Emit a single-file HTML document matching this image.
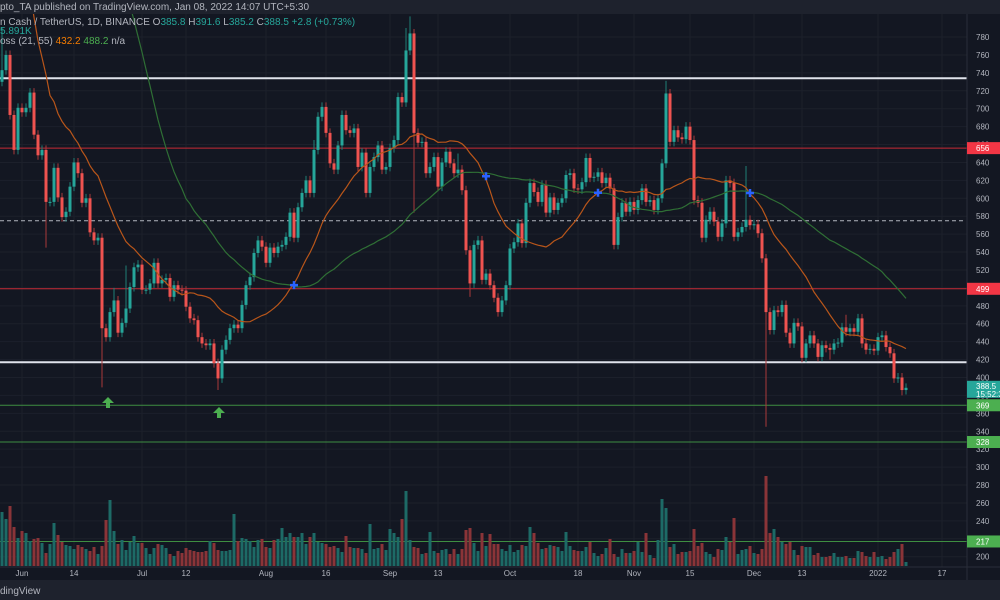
<!DOCTYPE html>
<html><head><meta charset="utf-8">
<style>
html,body{margin:0;padding:0;background:#131722;width:1000px;height:600px;overflow:hidden;font-family:"Liberation Sans",sans-serif;}
svg{display:block}
</style></head>
<body>
<svg id="chart" width="1000" height="600" viewBox="0 0 1000 600" xmlns="http://www.w3.org/2000/svg">
  <rect x="0" y="0" width="1000" height="600" fill="#131722"/>
  <rect x="0" y="0" width="1000" height="14" fill="#1e222d"/>
  <text x="0" y="10" font-size="10" fill="#b2b5be">pto_TA published on TradingView.com, Jan 08, 2022 14:07 UTC+5:30</text>
  <g id="grid"></g>
  <g id="hlines"></g>
  <g id="vol"></g>
  <g id="candles"></g>
  <g id="mas"></g>
  <g id="marks"></g>
  <text x="0" y="25" font-size="10" fill="#b2b5be">n Cash / TetherUS, 1D, BINANCE  O<tspan fill="#26a69a">385.8</tspan>  H<tspan fill="#26a69a">391.6</tspan>  L<tspan fill="#26a69a">385.2</tspan>  C<tspan fill="#26a69a">388.5  +2.8 (+0.73%)</tspan></text>
  <text x="0" y="34" font-size="10" fill="#26a69a">5.891K</text>
  <text x="0" y="44" font-size="10" fill="#b2b5be">oss (21, 55)  <tspan fill="#f57c00">432.2</tspan>  <tspan fill="#4caf50">488.2</tspan>  n/a</text>
  <rect x="967" y="14" width="33" height="553" fill="#131722"/>
  <line x1="967" y1="14" x2="967" y2="580" stroke="#2a2e39"/>
  <g id="yaxis"></g>
  <line x1="0" y1="567" x2="1000" y2="567" stroke="#2a2e39"/>
  <g id="xaxis"></g>
  <rect x="0" y="580" width="1000" height="20" fill="#1e222d"/>
  <text x="0" y="594" font-size="10" fill="#b2b5be">dingView</text>
</svg>
<script>
const closes = [743,760,693,654,701,696,701,718,671,648,654,596,596,634,601,579,585,613,640,628,595,600,562,553,556,455,445,473,486,450,461,477,501,523,526,498,498,505,528,505,509,511,490,503,498,497,479,466,464,445,438,436,438,416,399,431,442,455,459,455,481,503,512,539,553,546,528,545,539,546,548,557,584,556,590,606,620,606,654,691,702,673,639,632,659,693,676,673,678,635,651,606,635,646,659,632,635,656,665,713,707,765,784,673,662,663,628,635,646,613,640,652,639,628,632,609,542,505,548,553,509,516,503,489,473,486,503,544,551,572,550,595,617,607,596,615,584,601,587,595,600,626,628,611,610,618,645,623,624,629,617,623,611,548,579,595,585,596,587,598,611,596,598,587,600,639,717,663,676,668,666,680,665,598,595,556,576,585,574,557,572,620,617,557,562,568,576,570,571,561,533,473,453,475,473,481,450,438,461,457,422,438,447,438,423,436,433,431,438,439,456,451,455,451,466,438,431,432,430,445,447,434,427,399,400,386,388.5];
const priorCloses = [600,610,590,620,640,630,660,700,720,780,830,900,950,980,930,880,800,760,820,800,840,900,960,880,950,1000,1050,1100,1080,1150,1300,1350,1400,1450,1500,1470,1550,1520,1580,1540,1400,1350,1250,1200,1050,1000,1080,780,880,760,720,700,800,760,780];
const firstOpen = 730;
const highOverrides = {0:790,28:500,31:525,78:665,101:790,102:803,114:650,166:731,186:636,211:470};
const lowOverrides = {11:545,25:389,54:386,103:584,117:490,191:345,207:420,225:380};
const volumes = [54,47,60,39,28,35,33,25,27,28,23,13,22,43,31,24,21,20,17,21,19,17,15,19,12,20,46,66,35,22,26,16,24,30,23,23,18,12,18,22,21,18,12,10,15,13,18,16,15,14,14,15,25,23,16,15,15,16,52,25,28,27,25,19,26,27,19,18,26,27,38,29,33,29,29,33,22,29,33,24,23,22,19,20,18,14,30,19,18,18,17,13,42,17,18,22,16,37,33,29,47,75,26,19,18,12,13,34,15,13,16,17,12,17,12,17,36,38,23,15,33,20,32,22,22,17,15,21,14,16,21,20,39,33,23,17,18,21,20,19,15,34,20,16,15,15,19,24,13,10,12,18,27,12,9,17,13,13,15,24,14,33,11,8,26,67,58,19,22,12,14,14,15,37,20,23,14,12,9,17,16,29,24,48,12,16,17,20,13,12,17,90,33,37,29,24,22,24,16,11,20,19,19,11,13,9,9,10,13,9,9,10,8,8,15,14,10,9,14,9,10,7,9,14,17,22,4];
const priceTicks = [780,760,740,720,700,680,660,640,620,600,580,560,540,520,500,480,460,440,420,400,380,360,340,320,300,280,260,240,220,200];
const dateLabels = ["Jun","14","Jul","12","Aug","16","Sep","13","Oct","18","Nov","15","Dec","13","2022","17"];
const dateIndex = [5,18,35,46,66,81,97,109,127,144,158,172,188,200,219,235];
const levelPrices = [734,656,575,499,417,369,328,217];
const levelLabels = ["","656","","499","","369","328","217"];

const NS="http://www.w3.org/2000/svg";
function el(tag, attrs, parent){const e=document.createElementNS(NS,tag);for(const k in attrs)e.setAttribute(k,attrs[k]);parent.appendChild(e);return e;}
const y = p => 735.9 - 0.896*p;
const x = i => 2 + 4*i;
const vy = v => 566 - v*1.0;
const PLOT_R = 967, TOP = 14, BOT = 567;

const grid=document.getElementById('grid');
priceTicks.forEach(p=>{const l=el('line',{x1:0,x2:PLOT_R,y1:y(p),y2:y(p),stroke:'#1c202b','stroke-width':1},grid);

});
dateIndex.forEach(i=>{const l=el('line',{x1:x(i),x2:x(i),y1:TOP,y2:BOT,stroke:'#1c202b','stroke-width':1},grid);

});

const vol=document.getElementById('vol');
for(let i=0;i<closes.length;i++){
  const o = i===0?firstOpen:closes[i-1];
  const up = closes[i]>=o;
  if(i<volumes.length){
    const r=el('rect',{x:x(i)-1.5,y:vy(volumes[i]),width:3,height:566-vy(volumes[i]),fill:up?'#1d6a66':'#8a3438'},vol);
    
    
  }
}

const hl=document.getElementById('hlines');
const levelColors=['#e0e3eb','#c62a35','#b2b5be','#c62a35','#e0e3eb','#3e8e41','#3e8e41','#3e8e41'];
levelPrices.forEach((p,k)=>{
  const attrs={x1:0,x2:(k===2?965:PLOT_R),y1:y(p),y2:y(p),stroke:levelColors[k],'stroke-width':(k===0||k===4)?2:1};
  if(k===2) attrs['stroke-dasharray']='4,3';
  const l=el('line',attrs,hl);
  
  
});

const cg=document.getElementById('candles');
for(let i=0;i<closes.length;i++){
  const o=i===0?firstOpen:closes[i-1];
  const c=closes[i]; const up=c>=o;
  const col=up?'#26a69a':'#ef5350';
  const hi = highOverrides[i]!==undefined?highOverrides[i]:Math.max(o,c)+5;
  const lo = lowOverrides[i]!==undefined?lowOverrides[i]:Math.min(o,c)-5;
  const w=el('line',{x1:x(i),x2:x(i),y1:y(hi),y2:y(lo),stroke:up?'#1f7f76':'#a8393b','stroke-width':1},cg);
  
  
  const top=y(Math.max(o,c)), bh=Math.max(1,y(Math.min(o,c))-top);
  const b=el('rect',{x:x(i)-1.5,y:top,width:3,height:bh,fill:col},cg);
  
  
}

// simple moving averages using prior history
const all = priorCloses.concat(closes);
function sma(len){return closes.map((c,i)=>{const end=priorCloses.length+i;let s=0;for(let k=end-len+1;k<=end;k++)s+=all[k];return s/len;});}
const fast=sma(21), slow=sma(55);
const mas=document.getElementById('mas');
function pathOf(arr){return arr.map((v,i)=>(i?'L':'M')+x(i)+','+Math.max(-50,y(v)).toFixed(1)).join(' ');}
const clip=el('clipPath',{id:'plotclip'},mas); el('rect',{x:0,y:TOP,width:PLOT_R,height:BOT-TOP},clip);
const pf=el('path',{d:pathOf(fast),fill:'none',stroke:'#b9561a','stroke-width':1.2,'clip-path':'url(#plotclip)'},mas);


const ps=el('path',{d:pathOf(slow),fill:'none',stroke:'#2f6f35','stroke-width':1.2,'clip-path':'url(#plotclip)'},mas);



const mk=document.getElementById('marks');
for(let i=1;i<closes.length;i++){
  if(Math.sign(fast[i]-slow[i])!==Math.sign(fast[i-1]-slow[i-1]) && y(slow[i])>TOP){
    const cx=x(i), cy=y((fast[i]+slow[i])/2);
    const t=el('path',{d:`M${cx-4},${cy}H${cx+4}M${cx},${cy-4}V${cy+4}`,stroke:'#2962ff','stroke-width':2.5},mk);
    
    
  }
}
[[108,402],[219,412]].forEach(([ax,ay])=>{
  const a=el('path',{d:`M${ax},${ay-5}L${ax+6},${ay+1}H${ax+2}V${ay+6}H${ax-2}V${ay+1}H${ax-6}Z`,fill:'#4caf50'},mk);
  
  
});

const ya=document.getElementById('yaxis');
priceTicks.forEach(p=>{const t=el('text',{x:976,y:y(p)+3,'font-size':8,fill:'#b2b5be'},ya);t.textContent=p;

});
const labelBg=['','#f23645','','#f23645','','#4caf50','#4caf50','#4caf50'];
levelPrices.forEach((p,k)=>{ if(!levelLabels[k])return;
  const r=el('rect',{x:967,y:y(p)-6,width:33,height:12,fill:labelBg[k]},ya);
  
  
  const t=el('text',{x:976,y:y(p)+3,'font-size':8,fill:'#ffffff'},ya);t.textContent=levelLabels[k];
  
  
});
const last=closes[closes.length-1];
const lr=el('rect',{x:967,y:y(last)-7,width:33,height:17,fill:'#26a69a'},ya);


const lt=el('text',{x:976,y:y(last)+1,'font-size':8,fill:'#ffffff'},ya);lt.textContent=String(last);


const lt2=el('text',{x:976,y:y(last)+9,'font-size':8,fill:'#ffffff'},ya);lt2.textContent='15:52:30';



const xa=document.getElementById('xaxis');
dateLabels.forEach((s,k)=>{const t=el('text',{x:x(dateIndex[k]),y:576,'font-size':8,fill:'#b2b5be','text-anchor':'middle'},xa);t.textContent=s;

});
</script>
</body></html>
